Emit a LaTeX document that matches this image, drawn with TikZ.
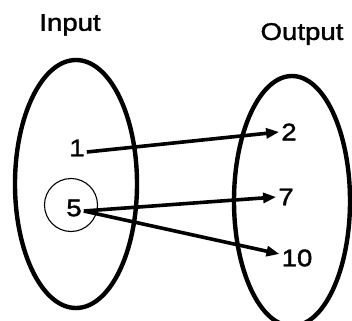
\documentclass[tikz,border=0pt]{standalone}
\usepackage{fontspec}
\usepackage{tikz}
\usetikzlibrary{arrows.meta,positioning,shapes.geometric}
\newfontfamily\diagfont[FakeStretch=1.15,FakeBold=1.6]{Liberation Sans}
\tikzset{
  setoval/.style={
    ellipse, draw=black, line width=4.4pt, inner sep=0pt
  },
  valnode/.style={
    font=\diagfont\fontsize{24}{26}\selectfont, inner sep=2pt
  },
  titlenode/.style={
    font=\diagfont\fontsize{24}{26}\selectfont, inner sep=0pt
  },
  maparrow/.style={
    -{Triangle[length=13pt,width=10pt]}, line width=3.6pt, color=black
  },
  ringmark/.style={
    circle, draw=black, line width=1.1pt, minimum size=53pt, inner sep=0pt
  },
}
\begin{document}
\begin{tikzpicture}[x=1pt,y=-1pt]
  \useasboundingbox (0,0) rectangle (352,320);

  % the two sets
  \node[setoval, minimum width=122pt, minimum height=248pt] (inset) at (76,184) {};
  \node[setoval, minimum width=116pt, minimum height=250pt] (outset) at (292,201) {};

  % headings
  \node[titlenode] (intitle) at (70,25) {Input};
  \node[titlenode] (outtitle) at (302,34) {Output};

  % values
  \node[valnode] (one) at (77,148) {1};
  \node[valnode] (five) at (74,208) {5};
  \node[valnode] (two) at (289,132) {2};
  \node[valnode] (seven) at (286,197) {7};
  \node[valnode] (ten) at (297,258) {10};

  % ring round the 5
  \node[ringmark] (ring) at (71,205) {};

  % mapping
  \draw[maparrow] ([yshift=-4pt]one.east) -- (two.west);
  \draw[maparrow] ([yshift=-3pt]five.east) -- (seven.west);
  \draw[maparrow] ([yshift=-3pt]five.east) -- ([yshift=4pt]ten.west);
\end{tikzpicture}
\end{document}
